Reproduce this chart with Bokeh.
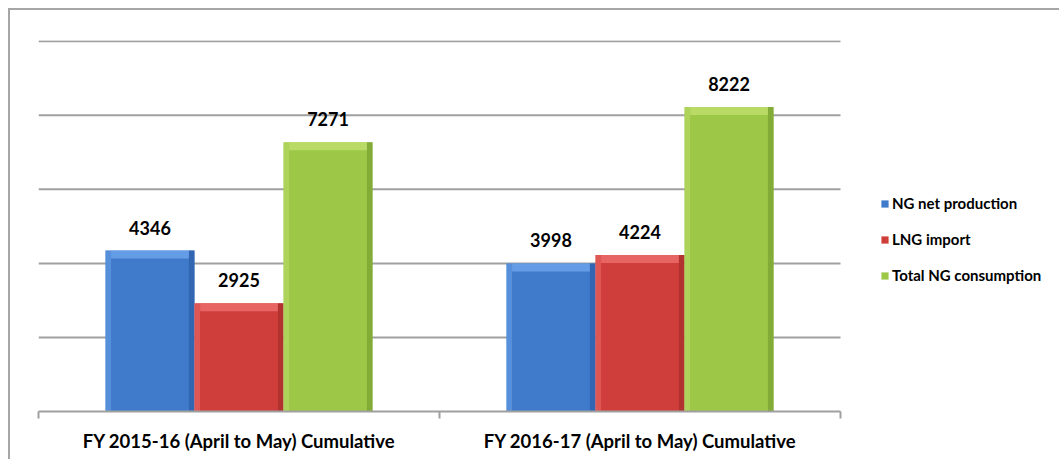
from bokeh.plotting import figure
from bokeh.models import (Range1d, LinearAxis, FixedTicker, ColumnDataSource, Legend, LegendItem)
from bokeh.core.properties import value
from bokeh.embed import file_html
from bokeh.resources import INLINE

groups = ["FY 2015-16 (April to May) Cumulative", "FY 2016-17 (April to May) Cumulative"]
series = ["NG net production", "LNG import", "Total NG consumption"]
ng_net_production = [4346, 3998]
lng_import = [2925, 4224]
total_ng_consumption = [7271, 8222]
y_ticks = [0, 2000, 4000, 6000, 8000, 10000]

values = [ng_net_production, lng_import, total_ng_consumption]
colors = ["#3f7acb", "#d03e3c", "#9dc746"]
light = ["#6ea6ec", "#ec6f6c", "#c0e06e"]
dark = ["#2f5ea6", "#a52d2b", "#78a030"]

FONT = "Lato"
BAR_W = 0.222
offsets = [-BAR_W, 0.0, BAR_W]
n = len(groups)
centers = [i + 0.5 for i in range(n)]

# plot area spans 802 px for the two groups; frame extends right to host the legend
x_end = n * 1023 / 802
p = figure(x_range=Range1d(0, x_end), y_range=Range1d(0, 10020),
           width=1051, height=451, output_backend="svg", toolbar_location=None,
           min_border_left=28, min_border_top=30, min_border_right=0, min_border_bottom=50,
           x_axis_location=None, y_axis_location="left")
p.styles = {"border-top": "2px solid #a6a6a6", "border-left": "2px solid #a6a6a6",
            "margin-top": "8px", "margin-left": "8px"}
p.outline_line_color = None
p.yaxis.visible = False
p.xgrid.visible = False
p.ygrid.visible = False

grid_src = ColumnDataSource(dict(y=y_ticks[1:], x0=[0] * (len(y_ticks) - 1), x1=[n] * (len(y_ticks) - 1)))
p.segment(x0="x0", x1="x1", y0="y", y1="y", source=grid_src, line_color="#a0a0a0", line_width=2)

tick_pos = list(range(n + 1))
tick_axis = LinearAxis(ticker=FixedTicker(ticks=tick_pos), bounds=(0, n),
                       major_label_overrides={t: "" for t in tick_pos},
                       major_tick_in=0, major_tick_out=7, minor_tick_line_color=None,
                       axis_line_color="#a0a0a0", axis_line_width=2,
                       major_tick_line_color="#a0a0a0", major_tick_line_width=2,
                       major_label_standoff=0)
p.add_layout(tick_axis, "below")
cat_axis = LinearAxis(ticker=FixedTicker(ticks=centers),
                      major_label_overrides={c: g for c, g in zip(centers, groups)},
                      major_tick_line_color=None, minor_tick_line_color=None, axis_line_color=None,
                      major_label_text_font=FONT, major_label_text_font_style="bold",
                      major_label_text_font_size="18.5px", major_label_text_color="#000000",
                      major_label_standoff=5)
p.add_layout(cat_axis, "below")

bevel = 10000 / 371 * 8
edge = 0.014
items = []
for i, (name, vals) in enumerate(zip(series, values)):
    off = offsets[i]
    xs = [c + off for c in centers]
    src = ColumnDataSource(dict(x=xs, xl=[x - BAR_W / 2 + edge / 2 for x in xs],
                                xr=[x + BAR_W / 2 - edge / 2 for x in xs],
                                top=vals, bev=[v - bevel for v in vals],
                                label=[str(v) for v in vals]))
    r = p.vbar(x="x", top="top", bottom=0, width=BAR_W, source=src,
               fill_color=colors[i], line_color=None)
    p.vbar(x="xl", top="top", bottom=0, width=edge, source=src,
           fill_color=light[i], fill_alpha=0.5, line_color=None)
    p.vbar(x="xr", top="top", bottom=0, width=edge, source=src,
           fill_color=dark[i], fill_alpha=0.7, line_color=None)
    p.vbar(x="x", top="top", bottom="bev", width=BAR_W - 2 * edge, source=src,
           fill_color=light[i], fill_alpha=0.8, line_color=None)
    p.text(x="x", y="top", text="label", source=src,
           text_align="center", text_baseline="bottom", y_offset=-16,
           text_font=value(FONT), text_font_style="bold", text_font_size="18px", text_color="#000000")
    items.append(LegendItem(label=name, renderers=[r]))

legend = Legend(items=items, location=(842, 126), border_line_color=None, background_fill_alpha=0,
                glyph_width=9, glyph_height=9, label_text_font=FONT, label_text_font_style="bold",
                label_text_font_size="15px", label_text_color="#000000", padding=0, margin=0,
                spacing=16, label_height=20, label_standoff=3)
p.add_layout(legend, "center")

open("out.html", "w").write(file_html(p, INLINE))
